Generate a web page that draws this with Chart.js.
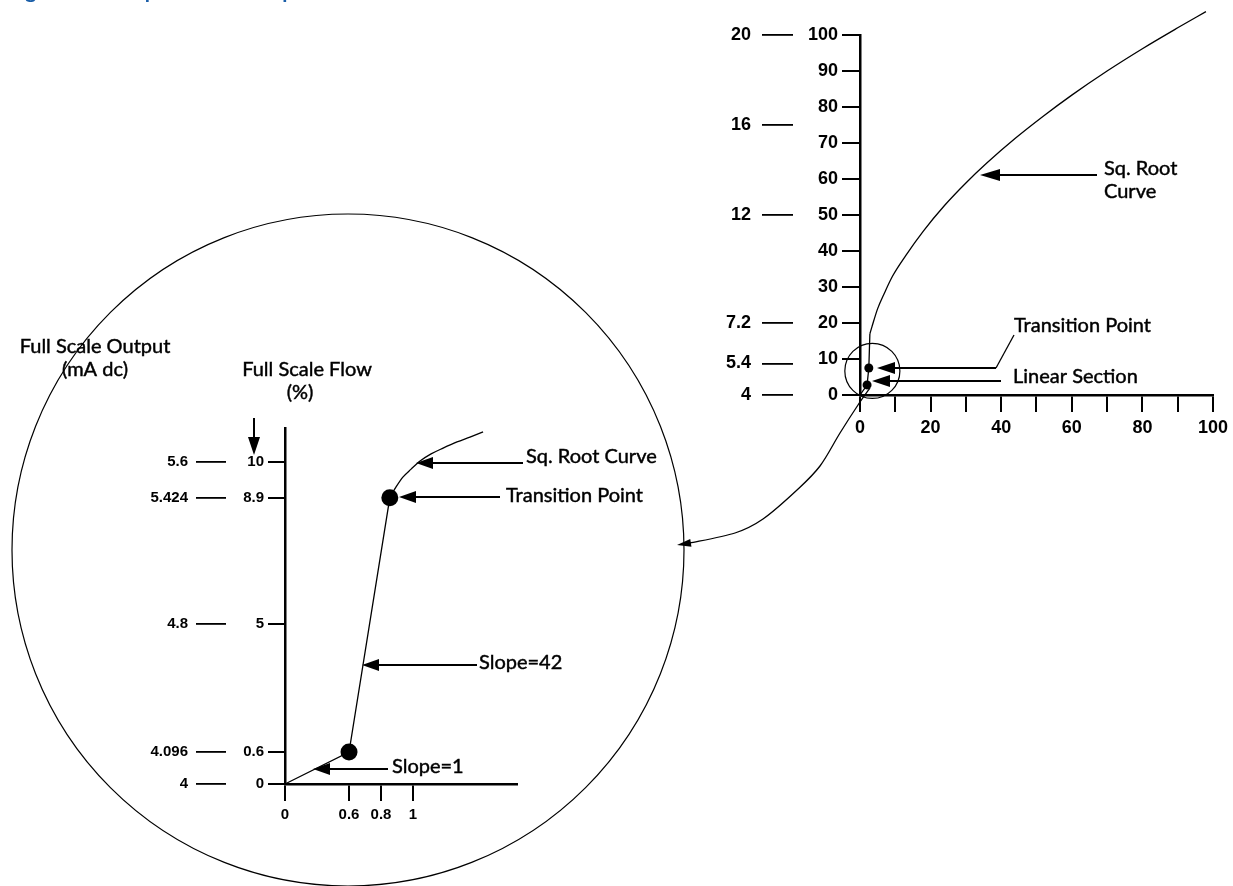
<!DOCTYPE html>
<html>
<head>
<meta charset="utf-8">
<title>Square Root Output Transition Point</title>
<script src="https://cdn.jsdelivr.net/npm/chart.js@4.4.1/dist/chart.umd.min.js"></script>
<style>
  html, body { margin: 0; padding: 0; background: #fff; }
  #wrap { position: relative; width: 1233px; height: 886px; overflow: hidden; }
  canvas { position: absolute; left: 0; top: 0; }
</style>
</head>
<body>
<div id="wrap">
  <canvas id="inset-chart" width="1233" height="886"></canvas>
  <canvas id="main-chart" width="1233" height="886"></canvas>
</div>
<script>
// Main chart (0-100 %)
const mainLinearX = [0, 2.0, 2.5, 2.8];
const mainLinearY = [0, 2.8, 7.5, 17];
const mainCurveX = [2.8, 3.4, 5, 7, 9.2, 13, 18, 24, 30, 36, 44, 52, 60, 70, 80, 90, 98];
const mainCurveY = [17, 19, 24, 28.5, 33, 38.8, 45.6, 52.7, 58.9, 64.5, 71.3, 77.5, 83.3, 90, 96.2, 102, 106.5];
const mainDotX = [2.0, 2.5];
const mainDotY = [2.8, 7.5];
const mainFlowTicks = [0, 10, 20, 30, 40, 50, 60, 70, 80, 90, 100];
const mainXTicks = [0, 10, 20, 30, 40, 50, 60, 70, 80, 90, 100];
const mainXLabels = ['0', '', '20', '', '40', '', '60', '', '80', '', '100'];
const mainMaTicks = [4, 5.4, 7.2, 12, 16, 20];

// Inset (zoom on the transition region)
const insetLinearX = [0, 0.6, 0.855];
const insetLinearY = [0, 0.6, 8.9];
const insetCurveX = [0.855, 0.894, 0.938, 0.988, 1.044, 1.113, 1.188, 1.275, 1.356, 1.438];
const insetCurveY = [8.9, 9.23, 9.54, 9.78, 10.03, 10.25, 10.43, 10.62, 10.77, 10.93];
const insetDotX = [0.6, 0.855];
const insetDotY = [0.6, 8.9];
const insetXTicks = [0, 0.6, 0.8, 1];
const insetXLabels = ['0', '0.6', '0.8', '1'];
const insetFlowTicks = [0, 0.6, 5, 8.9, 10];
const insetFlowLabels = ['0', '0.6', '5', '8.9', '10'];
const insetMaLabels = ['4', '4.096', '4.8', '5.424', '5.6'];

// the inset is not drawn to scale near zero: piecewise axis
const SCALE_BREAKS = {
    x: { values: [0, 0.6, 1.65], fracs: [0, 0.276, 1] },
    y: { values: [0, 0.6, 5, 11.05], fracs: [0, 0.0899, 0.4494, 1] },
    yMa: { values: [0, 0.6, 5, 11.05], fracs: [0, 0.0899, 0.4494, 1] }
};

class BrokenScale extends Chart.LinearScale {
    static id = 'broken';
    static defaults = {};
    getPixelForValue(value) {
        const b = SCALE_BREAKS[this.id];
        if (value === null || value === undefined || isNaN(value)) return NaN;
        let i = 0;
        while (i < b.values.length - 2 && value > b.values[i + 1]) i++;
        const v0 = b.values[i], v1 = b.values[i + 1];
        const f = b.fracs[i] + (value - v0) / (v1 - v0) * (b.fracs[i + 1] - b.fracs[i]);
        return this.getPixelForDecimal(f);
    }
    getValueForPixel(pixel) {
        const b = SCALE_BREAKS[this.id];
        const f = this.getDecimalForPixel(pixel);
        let i = 0;
        while (i < b.fracs.length - 2 && f > b.fracs[i + 1]) i++;
        return b.values[i] + (f - b.fracs[i]) / (b.fracs[i + 1] - b.fracs[i]) * (b.values[i + 1] - b.values[i]);
    }
}
Chart.register(BrokenScale);

const pts = (xs, ys) => xs.map((x, i) => ({ x: x, y: ys[i] }));
const tickFont = size => ({ family: 'Liberation Sans', size: size, weight: 'bold' });
const NOTE_FONT = '20px Lato';

function arrow(ctx, x1, y1, x2, y2, len, half, width) {
    const a = Math.atan2(y2 - y1, x2 - x1);
    const bx = x2 - len * Math.cos(a), by = y2 - len * Math.sin(a);
    ctx.beginPath();
    ctx.moveTo(x1, y1);
    ctx.lineTo(bx, by);
    ctx.lineWidth = width;
    ctx.stroke();
    ctx.beginPath();
    ctx.moveTo(x2, y2);
    ctx.lineTo(bx + half * Math.sin(a), by - half * Math.cos(a));
    ctx.lineTo(bx - half * Math.sin(a), by + half * Math.cos(a));
    ctx.closePath();
    ctx.fill();
}

function smoothPath(ctx, p) {
    ctx.beginPath();
    ctx.moveTo(p[0][0], p[0][1]);
    for (let i = 0; i < p.length - 1; i++) {
        const p0 = p[Math.max(i - 1, 0)], p1 = p[i], p2 = p[i + 1], p3 = p[Math.min(i + 2, p.length - 1)];
        ctx.bezierCurveTo(
            p1[0] + (p2[0] - p0[0]) / 6, p1[1] + (p2[1] - p0[1]) / 6,
            p2[0] - (p3[0] - p1[0]) / 6, p2[1] - (p3[1] - p1[1]) / 6,
            p2[0], p2[1]);
    }
    ctx.stroke();
}

// annotation text, slightly heavier than the plain face
function text(ctx, str, x, y, align) {
    ctx.textAlign = align || 'left';
    ctx.fillText(str, x, y);
    ctx.lineWidth = 0.45;
    ctx.strokeText(str, x, y);
}

const mainDecor = {
    id: 'mainDecor',
    afterDraw(chart) {
        const ctx = chart.ctx;
        const sx = chart.scales.x, sy = chart.scales.y;
        ctx.save();
        ctx.strokeStyle = '#000';
        ctx.fillStyle = '#000';

        // title (cut off at the top of the page)
        ctx.font = 'bold 21px Lato';
        ctx.fillStyle = '#1a5ea8';
        ctx.textBaseline = 'alphabetic';
        ctx.textAlign = 'left';
        ctx.fillText('Figure 3-14. Square Root Output Transition Point', 8, -2);
        ctx.fillStyle = '#000';

        // magnifier circle around the transition region
        const r = sx.getPixelForValue(7.8) - sx.getPixelForValue(0);
        ctx.lineWidth = 1.2;
        ctx.beginPath();
        ctx.arc(sx.getPixelForValue(3.5), sy.getPixelForValue(6.7), r, 0, Math.PI * 2);
        ctx.stroke();

        // leader to the enlarged view
        ctx.lineWidth = 1.3;
        smoothPath(ctx, [[870, 388], [858, 405], [840, 433], [820, 466], [797, 490], [763, 519], [735, 533], [690, 543]]);
        arrow(ctx, 690, 543, 677, 545, 14, 4, 1.3);

        ctx.font = NOTE_FONT;
        ctx.textBaseline = 'middle';
        arrow(ctx, 1097, 175, 980, 175, 20, 6, 2);
        text(ctx, 'Sq. Root', 1104, 169);
        text(ctx, 'Curve', 1104, 192);

        ctx.lineWidth = 1.3;
        ctx.beginPath();
        ctx.moveTo(1014, 335);
        ctx.lineTo(996, 368);
        ctx.stroke();
        arrow(ctx, 996, 368, 877, 368, 18, 6, 2);
        text(ctx, 'Transition Point', 1014, 326);

        arrow(ctx, 1001, 381, 872, 381, 18, 6, 2);
        text(ctx, 'Linear Section', 1013, 377);
        ctx.restore();
    }
};

const insetDecor = {
    id: 'insetDecor',
    afterDraw(chart) {
        const ctx = chart.ctx;
        ctx.save();
        ctx.strokeStyle = '#000';
        ctx.fillStyle = '#000';

        // enlarged view circle
        ctx.lineWidth = 1.2;
        ctx.beginPath();
        ctx.arc(348, 550, 336, 0, Math.PI * 2);
        ctx.stroke();

        ctx.font = NOTE_FONT;
        ctx.textBaseline = 'middle';
        text(ctx, 'Full Scale Output', 95, 347, 'center');
        text(ctx, '(mA dc)', 95, 370, 'center');
        text(ctx, 'Full Scale Flow', 307, 370, 'center');
        text(ctx, '(%)', 300, 393, 'center');

        arrow(ctx, 254, 418, 254, 455, 18, 6, 2);

        arrow(ctx, 523, 463, 416, 463, 17, 6, 2);
        text(ctx, 'Sq. Root Curve', 526, 457);
        arrow(ctx, 500, 497, 399, 497, 17, 6, 2);
        text(ctx, 'Transition Point', 506, 496);
        arrow(ctx, 477, 665, 362, 665, 17, 6, 2);
        text(ctx, 'Slope=42', 479, 663);
        arrow(ctx, 388, 769, 313, 769, 17, 6, 2);
        text(ctx, 'Slope=1', 392, 767);
        ctx.restore();
    }
};

const lineSet = (data, smooth) => ({
    data: data,
    showLine: true,
    borderColor: '#000',
    borderWidth: 1.3,
    pointRadius: 0,
    tension: smooth ? 0.4 : 0,
    cubicInterpolationMode: smooth ? 'monotone' : 'default',
    clip: false
});
const dotSet = (data, radius) => ({
    data: data,
    showLine: false,
    pointRadius: radius,
    pointBackgroundColor: '#000',
    pointBorderWidth: 0,
    clip: false
});

new Chart(document.getElementById('main-chart'), {
    type: 'scatter',
    data: {
        datasets: [
            lineSet(pts(mainLinearX, mainLinearY), false),
            lineSet(pts(mainCurveX, mainCurveY), true),
            dotSet(pts(mainDotX, mainDotY), 4.5)
        ]
    },
    options: {
        responsive: false,
        animation: false,
        devicePixelRatio: 1,
        layout: { padding: { left: 713, right: 16, top: 35, bottom: 441 } },
        plugins: { legend: { display: false }, tooltip: { enabled: false } },
        scales: {
            x: {
                type: 'linear', min: 0, max: 100,
                afterBuildTicks: s => { s.ticks = mainXTicks.map(v => ({ value: v })); },
                afterFit: s => { s.height = 50; },
                ticks: { callback: (v, i) => mainXLabels[i], font: tickFont(18), color: '#000', padding: 5, maxRotation: 0, autoSkip: false },
                grid: { drawOnChartArea: false, tickLength: 17, color: '#000', lineWidth: 2 },
                border: { color: '#000', width: 2.5 }
            },
            y: {
                type: 'linear', min: 0, max: 100, weight: 0,
                afterBuildTicks: s => { s.ticks = mainFlowTicks.map(v => ({ value: v })); },
                afterFit: s => { s.width = 67; },
                ticks: { font: tickFont(18), color: '#000', padding: 4, autoSkip: false },
                grid: { drawOnChartArea: false, tickLength: 18, color: '#000', lineWidth: 2 },
                border: { color: '#000', width: 2.5 }
            },
            yMa: {
                type: 'linear', position: 'left', min: 4, max: 20, weight: 10,
                afterBuildTicks: s => { s.ticks = mainMaTicks.map(v => ({ value: v })); },
                afterFit: s => { s.width = 80; },
                ticks: { callback: v => String(v), font: tickFont(18), color: '#000', padding: 11, autoSkip: false },
                grid: { drawOnChartArea: false, tickLength: 31, color: '#000', lineWidth: 1.8 },
                border: { display: false }
            }
        }
    },
    plugins: [mainDecor]
});

new Chart(document.getElementById('inset-chart'), {
    type: 'scatter',
    data: {
        datasets: [
            lineSet(pts(insetLinearX, insetLinearY), false),
            lineSet(pts(insetCurveX, insetCurveY), true),
            dotSet(pts(insetDotX, insetDotY), 8.5)
        ]
    },
    options: {
        responsive: false,
        animation: false,
        devicePixelRatio: 1,
        layout: { padding: { left: 130, right: 716, top: 428, bottom: 62 } },
        plugins: { legend: { display: false }, tooltip: { enabled: false } },
        scales: {
            x: {
                type: 'broken', min: 0, max: 1.65,
                afterBuildTicks: s => { s.ticks = insetXTicks.map(v => ({ value: v })); },
                afterFit: s => { s.height = 40; },
                ticks: { callback: (v, i) => insetXLabels[i], font: tickFont(15), color: '#000', padding: 5, maxRotation: 0, autoSkip: false },
                grid: { drawOnChartArea: false, tickLength: 17, color: '#000', lineWidth: 2 },
                border: { color: '#000', width: 2.5 }
            },
            y: {
                type: 'broken', min: 0, max: 11.05, weight: 0,
                afterBuildTicks: s => { s.ticks = insetFlowTicks.map(v => ({ value: v })); },
                afterFit: s => { s.width = 59; },
                ticks: { callback: (v, i) => insetFlowLabels[i], font: tickFont(15), color: '#000', padding: 4, autoSkip: false },
                grid: { drawOnChartArea: false, tickLength: 17, color: '#000', lineWidth: 2 },
                border: { color: '#000', width: 2.5 }
            },
            yMa: {
                type: 'broken', position: 'left', min: 0, max: 11.05, weight: 10,
                afterBuildTicks: s => { s.ticks = insetFlowTicks.map(v => ({ value: v })); },
                afterFit: s => { s.width = 96; },
                ticks: { callback: (v, i) => insetMaLabels[i], font: tickFont(15), color: '#000', padding: 8, autoSkip: false },
                grid: { drawOnChartArea: false, tickLength: 30, color: '#000', lineWidth: 1.8 },
                border: { display: false }
            }
        }
    },
    plugins: [insetDecor]
});
</script>
</body>
</html>
